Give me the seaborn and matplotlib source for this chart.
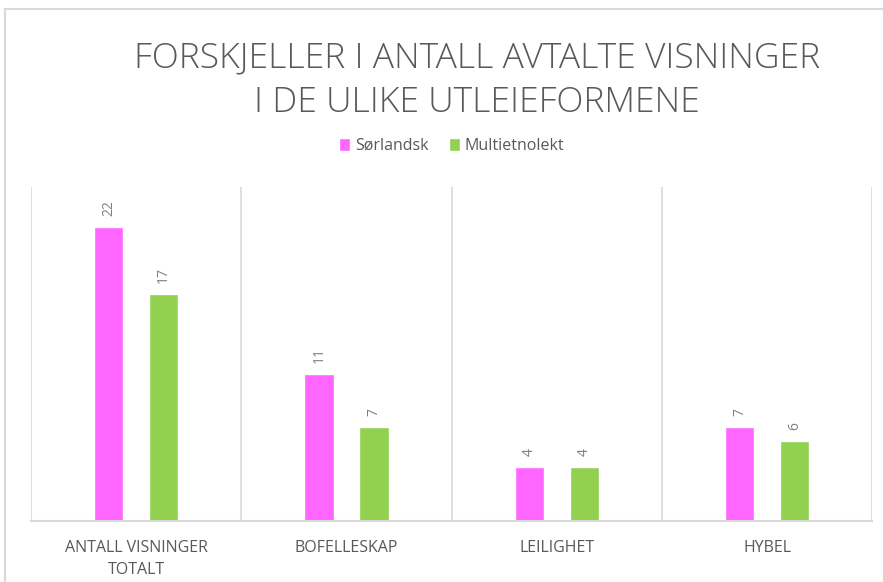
import matplotlib
matplotlib.use("Agg")
import matplotlib.pyplot as plt
import pandas as pd
import seaborn as sns
from matplotlib.lines import Line2D

categories = ["ANTALL VISNINGER\nTOTALT", "BOFELLESKAP", "LEILIGHET", "HYBEL"]
series_names = ["Sørlandsk", "Multietnolekt"]
sorlandsk = [22, 11, 4, 7]
multietnolekt = [17, 7, 4, 6]
colors = ["#FF66FF", "#92D050"]

df = pd.DataFrame({
    "kategori": categories * 2,
    "serie": [series_names[0]] * 4 + [series_names[1]] * 4,
    "antall": sorlandsk + multietnolekt,
})

sns.set_style("white")
plt.rcParams["font.family"] = ["Open Sans", "DejaVu Sans"]
text_col = "#595959"
grid_col = "#D9D9D9"

fig = plt.figure(figsize=(8.83, 5.82), dpi=100)
ax = fig.add_axes([0.035, 0.105, 0.953, 0.574])

sns.barplot(data=df, x="kategori", y="antall", hue="serie", order=categories,
            hue_order=series_names, palette=colors, width=0.524, gap=0.47,
            saturation=1, ax=ax, legend=True)

for cont in ax.containers:
    ax.bar_label(cont, rotation=90, padding=8, color="#7F7F7F", fontsize=10)

ax.set_ylim(0, 25)
ax.set_xlim(-0.5, 3.5)
for xs in [-0.5, 0.5, 1.5, 2.5, 3.5]:
    ax.axvline(xs, color=grid_col, lw=1.2, zorder=0)
ax.set_yticks([])
ax.set_xlabel("")
ax.set_ylabel("")
sns.despine(ax=ax, left=True, top=True, right=True)
ax.spines["bottom"].set_color(grid_col)
ax.spines["bottom"].set_linewidth(1.5)
ax.tick_params(axis="x", length=0, pad=14, colors=text_col, labelsize=11.5)
for lbl in ax.get_xticklabels():
    lbl.set_linespacing(1.5)

leg = ax.legend(loc="upper center", bbox_to_anchor=(0.5, 1.19), ncol=2, frameon=False,
                fontsize=11.5, handlelength=0.7, handleheight=0.9, handletextpad=0.3,
                columnspacing=1.3)
for t in leg.get_texts():
    t.set_color(text_col)

fig.text(0.54, 0.862, "FORSKJELLER I ANTALL AVTALTE VISNINGER\nI DE ULIKE UTLEIEFORMENE",
         ha="center", va="center", fontsize=25.5, color=text_col, fontweight="light",
         linespacing=1.4)

# chart frame (top and left edges visible)
fig.add_artist(Line2D([5 / 883, 1.0], [1 - 9 / 582] * 2, color=grid_col, lw=1.5))
fig.add_artist(Line2D([5 / 883] * 2, [0.0, 1 - 9 / 582], color=grid_col, lw=1.5))

fig.savefig("out.png", dpi=100)
